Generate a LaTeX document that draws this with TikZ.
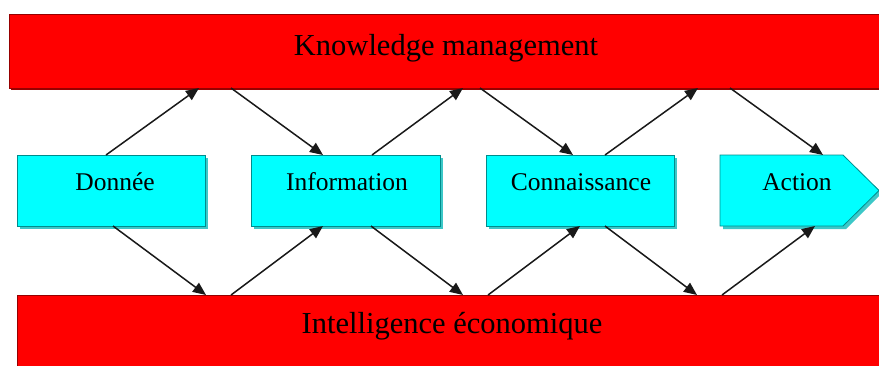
\documentclass[tikz,border=0pt]{standalone}
\usepackage{fontspec}
\setmainfont{Liberation Serif}
\usetikzlibrary{arrows.meta}
\definecolor{barred}{RGB}{255,0,0}
\definecolor{baredge}{RGB}{150,0,0}
\definecolor{boxcyan}{RGB}{0,255,255}
\definecolor{boxedge}{RGB}{0,140,140}
\definecolor{boxshadow}{RGB}{60,200,200}
\tikzset{
  bar/.style={fill=barred, draw=baredge, line width=0.8pt},
  cshadow/.style={fill=boxshadow, draw=none},
  cbox/.style={fill=boxcyan, draw=boxedge, line width=0.8pt},
  bigtext/.style={font=\fontsize{30.5}{36}\selectfont, anchor=base, inner sep=0pt, text=black},
  boxtext/.style={font=\fontsize{25.5}{30}\selectfont, anchor=base, inner sep=0pt, text=black},
  flow/.style={line width=1.5pt, black!90, -{Triangle[length=13pt,width=11pt]}}
}
\begin{document}
\begin{tikzpicture}[x=1pt,y=-1pt]
\useasboundingbox (0,0) rectangle (879,365);
\fill[white] (0,0) rectangle (879,365);
% red bars
\fill[baredge] (11,16) rectangle (880,90);
\path[bar] (9,14) rectangle (880,88);
\node[bigtext] (kmt) at (446,55) {Knowledge management};
\path[bar] (17,295) rectangle (884,370);
\node[bigtext] (iet) at (452,333) {Intelligence économique};
% cyan boxes: shadows
\fill[cshadow] (20,158) rectangle (208,229);
\fill[cshadow] (254,158) rectangle (443,229);
\fill[cshadow] (489,158) rectangle (677,229);
\fill[cshadow] (723,158) -- (846,158) -- (882,193) -- (846,229) -- (723,229) -- cycle;
% cyan boxes
\path[cbox] (17,155) rectangle (205,226);
\path[cbox] (251,155) rectangle (440,226);
\path[cbox] (486,155) rectangle (674,226);
\path[cbox] (720,155) -- (843,155) -- (879,190.5) -- (843,226) -- (720,226) -- cycle;
\node[boxtext] (d) at (115,190) {Donnée};
\node[boxtext] (i) at (347,190) {Information};
\node[boxtext] (c) at (581,190) {Connaissance};
\node[boxtext] (a) at (797,190) {Action};
% attachment points
\coordinate (dT) at (106,155);  \coordinate (dB) at (113,226);
\coordinate (iTi) at (323,155); \coordinate (iTo) at (372,155);
\coordinate (iBi) at (323,226); \coordinate (iBo) at (371,226);
\coordinate (cTi) at (573,155); \coordinate (cTo) at (605,155);
\coordinate (cBi) at (580,226); \coordinate (cBo) at (605,226);
\coordinate (aT) at (823,155);  \coordinate (aB) at (815,226);
\coordinate (k1) at (199,88); \coordinate (k2) at (231,88);
\coordinate (k3) at (463,88); \coordinate (k4) at (480,88);
\coordinate (k5) at (698,88); \coordinate (k6) at (730,88);
\coordinate (e1) at (206,295); \coordinate (e2) at (231,295);
\coordinate (e3) at (463,295); \coordinate (e4) at (488,295);
\coordinate (e5) at (697,295); \coordinate (e6) at (722,295);
% arrows
\draw[flow] (dT) -- (k1);
\draw[flow] (k2) -- (iTi);
\draw[flow] (iTo) -- (k3);
\draw[flow] (k4) -- (cTi);
\draw[flow] (cTo) -- (k5);
\draw[flow] (k6) -- (aT);
\draw[flow] (dB) -- (e1);
\draw[flow] (e2) -- (iBi);
\draw[flow] (iBo) -- (e3);
\draw[flow] (e4) -- (cBi);
\draw[flow] (cBo) -- (e5);
\draw[flow] (e6) -- (aB);
\end{tikzpicture}
\end{document}
